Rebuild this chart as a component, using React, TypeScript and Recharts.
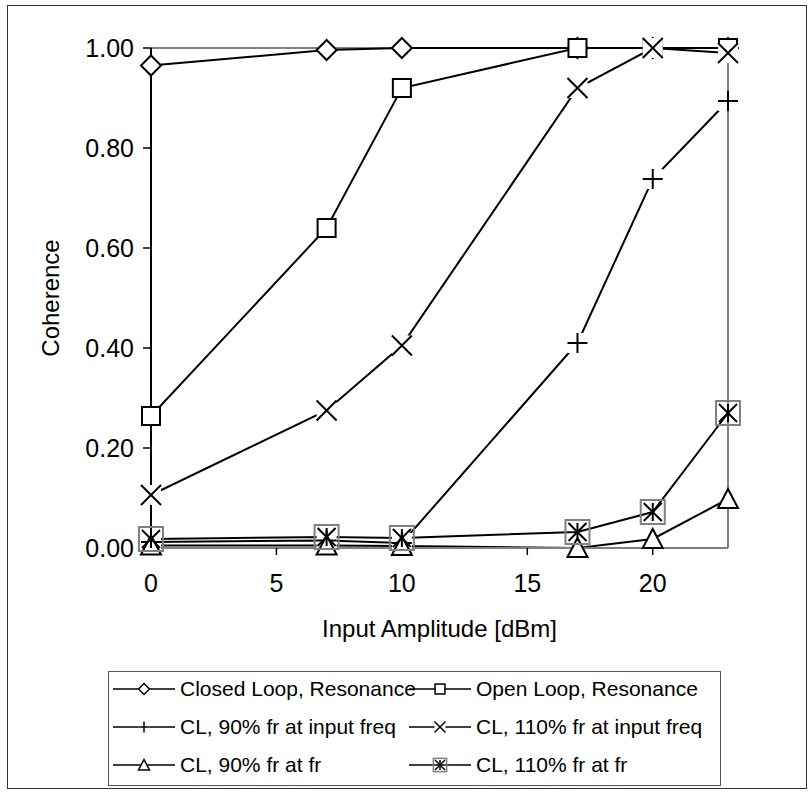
import React from "react";
import { LineChart, Line, XAxis, YAxis, ReferenceLine, Label } from "recharts";

const xValues = [0, 7, 10, 17, 20, 23];
const closedLoopResonance = [0.965, 0.996, 1.0, 1.0, 1.0, 1.0];
const openLoopResonance = [0.264, 0.64, 0.92, 1.0, 1.0, 1.0];
const cl90AtInput = [0.012, 0.015, 0.01, 0.41, 0.738, 0.894];
const cl110AtInput = [0.106, 0.275, 0.405, 0.92, 1.0, 0.99];
const cl90AtFr = [0.005, 0.005, 0.004, 0.0, 0.018, 0.098];
const cl110AtFr = [0.018, 0.022, 0.02, 0.032, 0.072, 0.27];

const xTicks = [0, 5, 10, 15, 20];
const yTicks = [0, 0.2, 0.4, 0.6, 0.8, 1.0];

const seriesNames = [
  "Closed Loop, Resonance",
  "Open Loop, Resonance",
  "CL, 90% fr at input freq",
  "CL, 110% fr at input freq",
  "CL, 90% fr at fr",
  "CL, 110% fr at fr",
];
const seriesKeys = ["s1", "s2", "s3", "s4", "s5", "s6"];
const seriesMarkers = ["diamond", "square", "plus", "cross", "triangle", "starbox"];
const seriesValues = [
  closedLoopResonance,
  openLoopResonance,
  cl90AtInput,
  cl110AtInput,
  cl90AtFr,
  cl110AtFr,
];

const data = xValues.map((x, i) => {
  const row: Record<string, number> = { x };
  seriesKeys.forEach((k, j) => {
    row[k] = seriesValues[j][i];
  });
  return row;
});

const FONT = '"Liberation Sans", Arial, sans-serif';

function Marker({ type, cx, cy, s = 1 }: { type: string; cx: number; cy: number; s?: number }) {
  const sw = s < 1 ? 1.5 : 2;
  if (type === "diamond") {
    const r = 10 * s;
    return (
      <polygon
        points={`${cx},${cy - r} ${cx + r},${cy} ${cx},${cy + r} ${cx - r},${cy}`}
        fill="#fff"
        stroke="#000"
        strokeWidth={sw}
      />
    );
  }
  if (type === "square") {
    const r = 9 * s;
    return <rect x={cx - r} y={cy - r} width={2 * r} height={2 * r} fill="#fff" stroke="#000" strokeWidth={sw} />;
  }
  if (type === "plus") {
    const r = 10 * s;
    return (
      <g>
        <rect x={cx - r} y={cy - r} width={2 * r} height={2 * r} fill="#fff" stroke="none" />
        <line x1={cx - r} y1={cy} x2={cx + r} y2={cy} stroke="#000" strokeWidth={sw} />
        <line x1={cx} y1={cy - r} x2={cx} y2={cy + r} stroke="#000" strokeWidth={sw} />
      </g>
    );
  }
  if (type === "cross") {
    const r = 10 * s;
    return (
      <g>
        <rect x={cx - r} y={cy - r} width={2 * r} height={2 * r} fill="#fff" stroke="none" />
        <line x1={cx - r} y1={cy - r} x2={cx + r} y2={cy + r} stroke="#000" strokeWidth={sw} />
        <line x1={cx - r} y1={cy + r} x2={cx + r} y2={cy - r} stroke="#000" strokeWidth={sw} />
      </g>
    );
  }
  if (type === "triangle") {
    const r = 10 * s;
    return (
      <polygon
        points={`${cx},${cy - r} ${cx + r},${cy + r * 0.9} ${cx - r},${cy + r * 0.9}`}
        fill="#fff"
        stroke="#000"
        strokeWidth={sw}
      />
    );
  }
  // starbox
  const b = 12 * s;
  const r = 9 * s;
  return (
    <g>
      <rect x={cx - b} y={cy - b} width={2 * b} height={2 * b} fill="none" stroke="#808080" strokeWidth={sw} />
      <line x1={cx} y1={cy - r} x2={cx} y2={cy + r} stroke="#000" strokeWidth={sw} />
      <line x1={cx - r} y1={cy - r} x2={cx + r} y2={cy + r} stroke="#000" strokeWidth={sw} />
      <line x1={cx - r} y1={cy + r} x2={cx + r} y2={cy - r} stroke="#000" strokeWidth={sw} />
    </g>
  );
}

const legendColX = [112, 408];
const legendRowY = [689, 727, 765];

function LegendEntry({ i }: { i: number }) {
  const col = i % 2;
  const row = Math.floor(i / 2);
  return (
    <div
      style={{
        position: "absolute",
        left: legendColX[col],
        top: legendRowY[row] - 14,
        height: 28,
        display: "flex",
        alignItems: "center",
        whiteSpace: "nowrap",
      }}
    >
      <svg width={64} height={28} style={{ flex: "none" }}>
        <line x1={1} y1={14} x2={63} y2={14} stroke="#000" strokeWidth={1.5} />
        <Marker type={seriesMarkers[i]} cx={32} cy={14} s={0.55} />
      </svg>
      <span style={{ marginLeft: 4 }}>{seriesNames[i]}</span>
    </div>
  );
}

export default function App() {
  return (
    <div style={{ position: "absolute", left: 0, top: 0, width: 811, height: 792, background: "#fff", fontFamily: FONT }}>
      <div
        style={{
          position: "absolute",
          left: 7,
          top: 5,
          width: 800,
          height: 784,
          border: "1.5px solid #333",
          boxSizing: "border-box",
        }}
      />
      <div style={{ position: "absolute", left: 0, top: 0 }}>
        <LineChart width={811} height={792} data={data} margin={{ top: 48, right: 83, bottom: 214, left: 0 }}>
          <XAxis
            dataKey="x"
            type="number"
            domain={[0, 23]}
            ticks={xTicks}
            height={30}
            tickSize={7}
            tickMargin={19}
            axisLine={{ stroke: "#808080", strokeWidth: 2 }}
            tickLine={{ stroke: "#000", strokeWidth: 1.5 }}
            tick={{ fill: "#000", fontSize: 25, fontFamily: FONT }}
          >
            <Label value="Input Amplitude [dBm]" position="bottom" offset={42} style={{ fill: "#000", fontSize: 24, fontFamily: FONT }} />
          </XAxis>
          <YAxis
            type="number"
            domain={[0, 1]}
            ticks={yTicks}
            width={151}
            tickSize={8}
            tickMargin={9}
            tickFormatter={(v: number) => v.toFixed(2)}
            axisLine={{ stroke: "#000", strokeWidth: 2 }}
            tickLine={{ stroke: "#000", strokeWidth: 1.5 }}
            tick={{ fill: "#000", fontSize: 25, fontFamily: FONT }}
          >
            <Label
              value="Coherence"
              angle={-90}
              position="center"
              dx={-25}
              style={{ fill: "#000", fontSize: 24, fontFamily: FONT, textAnchor: "middle" }}
            />
          </YAxis>
          <ReferenceLine y={1} stroke="#808080" strokeWidth={2} />
          <ReferenceLine x={23} stroke="#808080" strokeWidth={2} />
          {seriesKeys.map((k, j) => (
            <Line
              key={k}
              dataKey={k}
              name={seriesNames[j]}
              type="linear"
              stroke="#000"
              strokeWidth={2}
              isAnimationActive={false}
              activeDot={false}
              dot={(p: any) => <Marker key={`${k}-${p.index}`} type={seriesMarkers[j]} cx={p.cx} cy={p.cy} />}
            />
          ))}
        </LineChart>
      </div>
      <div
        style={{
          position: "absolute",
          left: 108,
          top: 671,
          width: 613,
          height: 115,
          border: "1.5px solid #555",
          boxSizing: "border-box",
          background: "#fff",
        }}
      />
      <div style={{ position: "absolute", left: 0, top: 0, fontSize: 21, color: "#000" }}>
        {seriesNames.map((_, i) => (
          <LegendEntry key={i} i={i} />
        ))}
      </div>
    </div>
  );
}
